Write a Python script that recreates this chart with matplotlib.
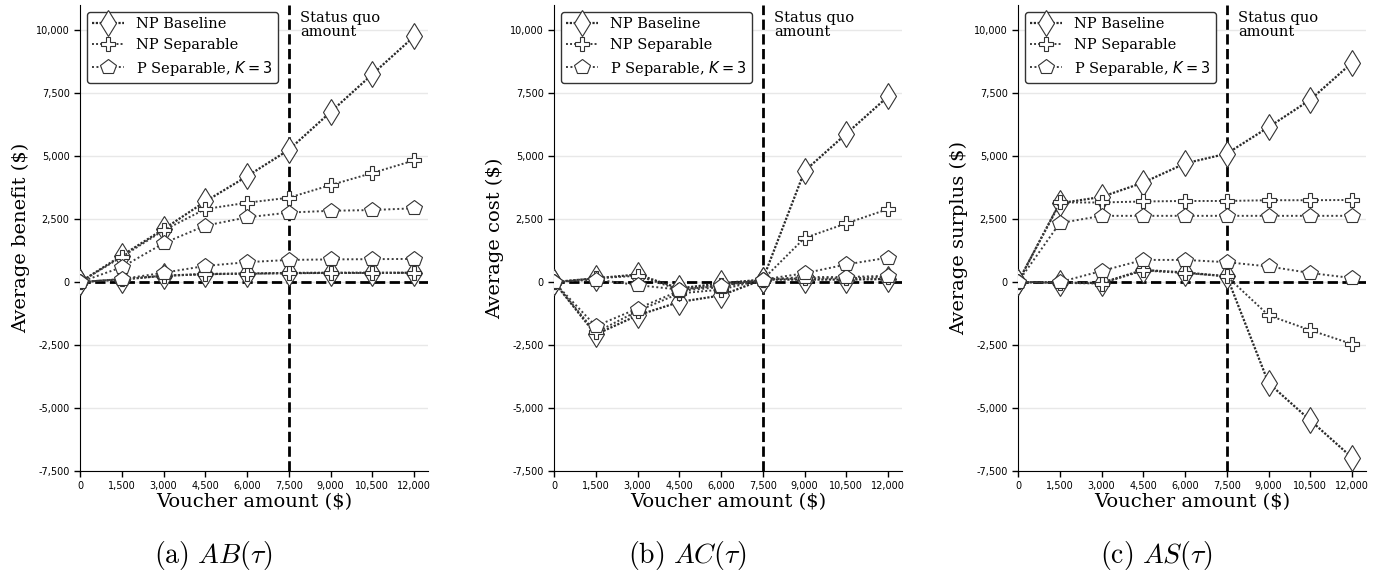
import matplotlib.pyplot as plt

plt.rcParams['font.family'] = 'DejaVu Serif'

voucher = [0, 1500, 3000, 4500, 6000, 7500, 9000, 10500, 12000]
xtick_labels = ['0', '1,500', '3,000', '4,500', '6,000', '7,500', '9,000', '10,500', '12,000']
yticks = [-7500, -5000, -2500, 0, 2500, 5000, 7500, 10000]
ytick_labels = ['-7,500', '-5,000', '-2,500', '0', '2,500', '5,000', '7,500', '10,000']
status_quo = 7500

# benefit, two groups per method (hi / lo)
ab_base_hi = [0, 1050, 2100, 3200, 4200, 5250, 6750, 8250, 9750]
ab_base_lo = [0, 100, 250, 320, 340, 360, 370, 370, 370]
ab_sep_hi = [0, 1000, 2050, 2900, 3150, 3350, 3850, 4330, 4830]
ab_sep_lo = [0, 120, 250, 310, 330, 350, 360, 360, 370]
ab_psep_hi = [0, 590, 1540, 2240, 2570, 2760, 2830, 2860, 2930]
ab_psep_lo = [0, 120, 370, 640, 790, 880, 900, 910, 920]

# cost
ac_base_hi = [0, -2080, -1320, -790, -530, 100, 100, 100, 120]
ac_base_lo = [0, 150, 300, -250, -50, 100, 4410, 5890, 7370]
ac_sep_hi = [0, -2000, -1150, -450, -300, 100, 150, 150, 200]
ac_sep_lo = [0, 150, 250, -300, -120, 100, 1750, 2330, 2900]
ac_psep_hi = [0, -1750, -1050, -350, -200, 100, 200, 200, 250]
ac_psep_lo = [0, 100, -120, -300, -150, 100, 350, 700, 970]

# surplus
as_base_hi = [0, 3130, 3380, 3950, 4710, 5100, 6150, 7240, 8710]
as_base_lo = [0, -30, -30, 480, 380, 230, -4010, -5490, -6970]
as_sep_hi = [0, 3160, 3160, 3200, 3220, 3220, 3250, 3250, 3260]
as_sep_lo = [0, -30, -60, 460, 360, 230, -1320, -1910, -2460]
as_psep_hi = [0, 2340, 2630, 2630, 2630, 2630, 2630, 2630, 2630]
as_psep_lo = [0, 0, 440, 880, 880, 790, 620, 360, 160]

methods = ['NP Baseline', 'NP Separable', r'P Separable, $K = 3$']
markers = ['d', 'P', 'p']
msizes = [13, 10.5, 11.5]
dash_styles = [(0, (1, 0.7)), (0, (1, 1.1)), (0, (1, 1.3))]

panels = [
    ('Average benefit ($)', r'$\mathrm{(a)}\ AB(\tau)$',
     [(ab_base_hi, ab_base_lo), (ab_sep_hi, ab_sep_lo), (ab_psep_hi, ab_psep_lo)]),
    ('Average cost ($)', r'$\mathrm{(b)}\ AC(\tau)$',
     [(ac_base_hi, ac_base_lo), (ac_sep_hi, ac_sep_lo), (ac_psep_hi, ac_psep_lo)]),
    ('Average surplus ($)', r'$\mathrm{(c)}\ AS(\tau)$',
     [(as_base_hi, as_base_lo), (as_sep_hi, as_sep_lo), (as_psep_hi, as_psep_lo)]),
]

fig = plt.figure(figsize=(13.9, 5.76), dpi=100)
lefts = [80, 554, 1018]
caption_x = [213, 687, 1156]

for i, (ylabel, caption, series) in enumerate(panels):
    ax = fig.add_axes([lefts[i] / 1390, 1 - 471 / 576, 348 / 1390, 466 / 576])
    for y in yticks:
        ax.axhline(y, color='#e8e8e8', lw=1, zorder=0)
    for j, (hi, lo) in enumerate(series):
        lw = 1.6 if j == 0 else 1.4
        col = '#2a2a2a' if j == 0 else '#3c3c3c'
        for k, vals in enumerate((hi, lo)):
            ax.plot(voucher, vals, linestyle=dash_styles[j], lw=lw, color=col,
                    marker=markers[j], ms=msizes[j], mfc='white', mec='#333333',
                    mew=0.8, label=methods[j] if k == 0 else None, zorder=3)
    ax.axvline(status_quo, color='black', ls='--', lw=2, zorder=2)
    ax.axhline(0, color='black', ls='--', lw=2, zorder=2)
    ax.text(status_quo + 420, 10750, 'Status quo\namount', fontsize=10.5, va='top',
            linespacing=0.95)
    ax.set_xlim(0, 12500)
    ax.set_ylim(-7500, 11000)
    ax.set_xticks(voucher)
    ax.set_xticklabels(xtick_labels)
    ax.set_yticks(yticks)
    ax.set_yticklabels(ytick_labels)
    ax.tick_params(labelsize=7, labelfontfamily='DejaVu Sans', length=4, width=1)
    ax.set_xlabel('Voucher amount ($)', fontsize=14, labelpad=1)
    ax.set_ylabel(ylabel, fontsize=14, labelpad=4)
    for s in ['top', 'right']:
        ax.spines[s].set_visible(False)
    leg = ax.legend(loc='upper left', fontsize=10.5, framealpha=1, edgecolor='#333333',
                    fancybox=True, borderpad=0.35, labelspacing=0.45, handletextpad=0.8,
                    handlelength=2.2)
    leg.get_frame().set_linewidth(1)
    fig.text(caption_x[i] / 1390, 1 - 555 / 576, caption, fontsize=20,
             math_fontfamily='cm', ha='center', va='center')

fig.savefig('out.png', dpi=100)
